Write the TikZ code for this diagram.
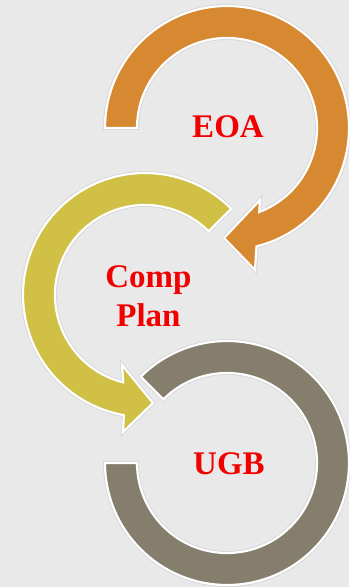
\documentclass[tikz,border=0pt]{standalone}
\usepackage{fontspec}
\setmainfont{Liberation Serif}
\usetikzlibrary{calc}
\definecolor{cbg}{HTML}{E9E9E9}
\definecolor{corange}{HTML}{D68931}
\definecolor{cyellow}{HTML}{D1C046}
\definecolor{ctaupe}{HTML}{867E6C}
\definecolor{cred}{HTML}{F20000}
\tikzset{
  ring/.style={draw=white,line width=2.2pt,line join=miter,
    preaction={draw=black!35,line width=3.8pt,opacity=0.3}},
  lbl/.style={text=cred,font=\fontsize{33}{39}\selectfont\bfseries,align=center,inner sep=0pt},
}
\begin{document}
\begin{tikzpicture}[x=1pt,y=1pt]
  \fill[cbg] (0,0) rectangle (349,587);
  \useasboundingbox (0,0) rectangle (349,587);
  % ring centres
  \coordinate (ceoa) at (227,459);
  \coordinate (ccomp) at (145,292);
  \coordinate (cugb) at (227,124);
  % EOA: clockwise from the left end, head turning down-left
  \path[ring,fill=corange] ($(ceoa)+(180:122pt)$) arc[start angle=180,end angle=-76,radius=122pt]
    -- ($(ceoa)+(28,-142)$) -- ($(ceoa)+(-3,-110)$) -- ($(ceoa)+(33,-72)$)
    -- ($(ceoa)+(-69:90pt)$) arc[start angle=-69,end angle=180,radius=90pt] -- cycle;
  % Comp Plan: anticlockwise from upper right, head turning right
  \path[ring,fill=cyellow] ($(ccomp)+(45:122pt)$) arc[start angle=45,end angle=260,radius=122pt]
    -- ($(ccomp)+(-22,-137)$) -- ($(ccomp)+(8,-108)$) -- ($(ccomp)+(-23,-70)$)
    -- ($(ccomp)+(256:90pt)$) arc[start angle=256,end angle=45,radius=90pt] -- cycle;
  % UGB: plain ring with a gap at upper left
  \path[ring,fill=ctaupe] ($(cugb)+(180:122pt)$) arc[start angle=180,end angle=495,radius=122pt]
    -- ($(cugb)+(135:90pt)$) arc[start angle=495,end angle=180,radius=90pt] -- cycle;
  % labels
  \node[lbl] (eoa) at (228,460.5) {EOA};
  \node[lbl] (comp) at (148.5,290.5) {Comp\\Plan};
  \node[lbl] (ugb) at (229,123.5) {UGB};
\end{tikzpicture}
\end{document}
